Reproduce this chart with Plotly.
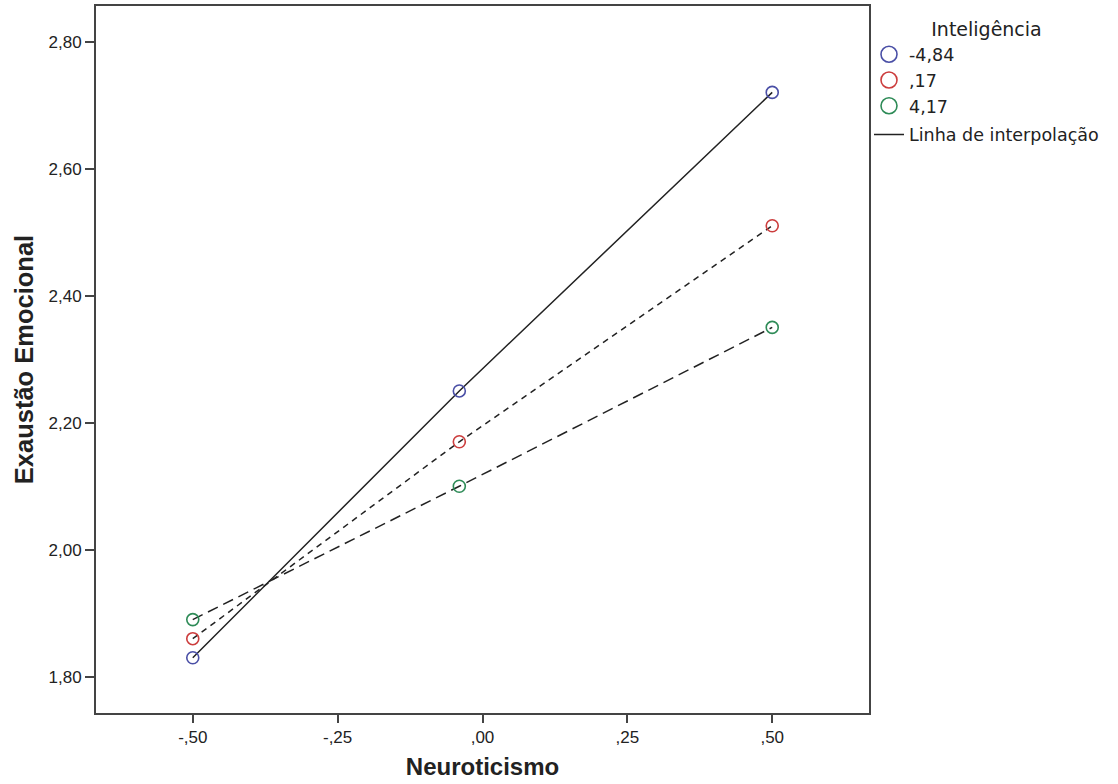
import plotly.graph_objects as go

# Data
neuroticismo = [-0.5, -0.04, 0.5]
grupos = ["-4,84", ",17", "4,17"]
valores = {
    "-4,84": [1.83, 2.25, 2.72],
    ",17": [1.86, 2.17, 2.51],
    "4,17": [1.89, 2.10, 2.35],
}
cores = {"-4,84": "#4a4fa6", ",17": "#cc3d3d", "4,17": "#2e8b57"}
tracos = {"-4,84": "solid", ",17": "6px,5px", "4,17": "11px,6px"}

x_ticks = [-0.5, -0.25, 0.0, 0.25, 0.5]
x_ticktext = ["-,50", "-,25", ",00", ",25", ",50"]
y_ticks = [1.8, 2.0, 2.2, 2.4, 2.6, 2.8]
y_ticktext = ["1,80", "2,00", "2,20", "2,40", "2,60", "2,80"]

FONT = "Liberation Sans, Arial, sans-serif"
LFONT = "DejaVu Sans, Liberation Sans, sans-serif"
AXC = "#444444"

fig = go.Figure()

# interpolation lines
for g in grupos:
    fig.add_trace(go.Scatter(
        x=neuroticismo, y=valores[g], mode="lines",
        line=dict(color="#222222", width=1.5, dash=tracos[g]),
        showlegend=False, hoverinfo="skip"))

# markers
for g in grupos:
    fig.add_trace(go.Scatter(
        x=neuroticismo, y=valores[g], mode="markers",
        marker=dict(symbol="circle-open", size=12, color=cores[g], line=dict(width=1.6)),
        showlegend=False, name=g))

# legend entries
for g in grupos:
    fig.add_trace(go.Scatter(
        x=[None], y=[None], mode="markers", name=g, legendgroup="a",
        marker=dict(symbol="circle-open", size=16, color=cores[g], line=dict(width=1.6))))
fig.add_trace(go.Scatter(
    x=[None], y=[None], mode="lines", name="Linha de interpolação", legendgroup="b",
    line=dict(color="#222222", width=1.5)))

fig.update_layout(
    width=1118, height=784,
    margin=dict(l=96, r=249, t=6, b=71),
    paper_bgcolor="white", plot_bgcolor="white",
    font=dict(family=FONT, color="#222222", size=16),
    legend=dict(
        title=dict(text="Inteligência", side="top center", font=dict(size=19, family=LFONT)),
        font=dict(size=17.5, family=LFONT), x=1.0, xanchor="left", y=0.992, yanchor="top",
        traceorder="grouped", tracegroupgap=3,
        bgcolor="rgba(0,0,0,0)"),
    xaxis=dict(
        range=[-0.667, 0.667], tickvals=x_ticks, ticktext=x_ticktext,
        showgrid=False, zeroline=False, showline=True, mirror=True,
        linecolor=AXC, linewidth=2, ticks="outside", ticklen=8, tickwidth=2,
        tickcolor=AXC, tickfont=dict(size=17), automargin=False,
        title=dict(text="<b>Neuroticismo</b>", font=dict(size=24), standoff=12)),
    yaxis=dict(
        range=[1.743, 2.856], tickvals=y_ticks, ticktext=y_ticktext,
        showgrid=False, zeroline=False, showline=True, mirror=True,
        linecolor=AXC, linewidth=2, ticks="outside", ticklen=9, tickwidth=2,
        tickcolor=AXC, tickfont=dict(size=17), automargin=False,
        title=dict(text="<b>Exaustão Emocional</b>", font=dict(size=25.5), standoff=8)),
)

fig.write_html("out.html", config={"displayModeBar": False},
               post_script="document.body.style.margin='0';")
